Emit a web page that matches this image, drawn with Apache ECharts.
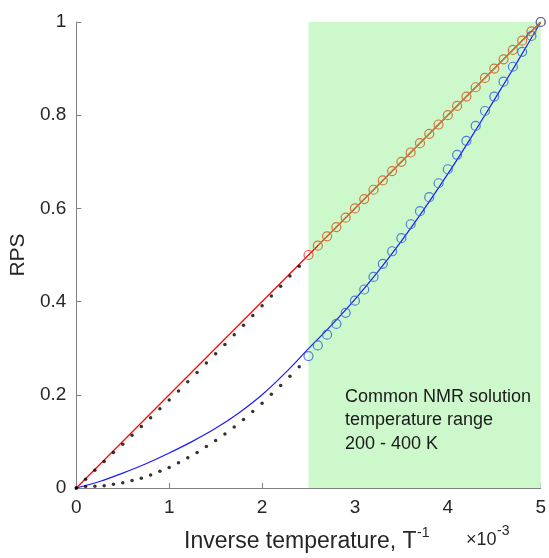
<!DOCTYPE html>
<html>
<head>
<meta charset="utf-8">
<script src="https://cdn.jsdelivr.net/npm/echarts@6/dist/echarts.min.js"></script>
<style>
html, body { margin: 0; padding: 0; background: #fff; }
#chart { width: 549px; height: 558px; }
</style>
</head>
<body>
<div id="chart"></div>
<script>
// axis ticks
var xTicks = [0, 1, 2, 3, 4, 5];
var yTicks = [0, 0.2, 0.4, 0.6, 0.8, 1];

// solid model lines
var redLineX = [0, 5];
var redLineY = [0, 1];
var blueLineX = [0, 0.25, 0.5, 0.75, 1, 1.25, 1.5, 1.75, 2, 2.25, 2.5, 2.75, 3, 3.25, 3.5, 3.75, 4, 4.25, 4.5, 4.75, 5];
var blueLineY = [0, 0.014, 0.032, 0.052, 0.075, 0.100, 0.128, 0.161, 0.200, 0.247, 0.299, 0.350, 0.405, 0.465, 0.530, 0.600, 0.674, 0.752, 0.833, 0.915, 1.0];

// dotted (black) points
var dotX = [0, 0.1, 0.2, 0.3, 0.4, 0.5, 0.6, 0.7, 0.8, 0.9, 1.0, 1.1, 1.2, 1.3, 1.4, 1.5, 1.6, 1.7, 1.8, 1.9, 2.0, 2.1, 2.2, 2.3, 2.4];
var redDotY = [0, 0.019, 0.038, 0.057, 0.076, 0.094, 0.113, 0.132, 0.151, 0.170, 0.189, 0.208, 0.228, 0.248, 0.268, 0.288, 0.308, 0.329, 0.349, 0.370, 0.391, 0.412, 0.433, 0.455, 0.476];
var blueDotY = [0, 0.003, 0.004, 0.005, 0.008, 0.011, 0.016, 0.021, 0.028, 0.036, 0.044, 0.054, 0.065, 0.076, 0.089, 0.102, 0.116, 0.131, 0.147, 0.164, 0.182, 0.201, 0.220, 0.240, 0.260];

// circles in the 200 - 400 K range
var circleX = [2.5, 2.6, 2.7, 2.8, 2.9, 3.0, 3.1, 3.2, 3.3, 3.4, 3.5, 3.6, 3.7, 3.8, 3.9, 4.0, 4.1, 4.2, 4.3, 4.4, 4.5, 4.6, 4.7, 4.8, 4.9, 5.0];
var orangeCircleY = [0.50, 0.52, 0.54, 0.56, 0.58, 0.60, 0.62, 0.64, 0.66, 0.68, 0.70, 0.72, 0.74, 0.76, 0.78, 0.80, 0.82, 0.84, 0.86, 0.88, 0.90, 0.92, 0.94, 0.96, 0.98, 1.00];
var blueCircleY = [0.283, 0.306, 0.329, 0.352, 0.376, 0.402, 0.426, 0.453, 0.481, 0.508, 0.536, 0.566, 0.594, 0.624, 0.654, 0.684, 0.715, 0.745, 0.777, 0.809, 0.840, 0.872, 0.904, 0.936, 0.970, 1.0];

var rangeX = [2.5, 5];
var rangeText = ['Common NMR solution', 'temperature range', '200 - 400 K'];

function zip(xs, ys) {
    var out = [];
    for (var i = 0; i < xs.length; i++) out.push([xs[i], ys[i]]);
    return out;
}

var font = 'Liberation Sans, Arial, Helvetica, sans-serif';
var hollow = 'rgba(0,0,0,0)';
var ink = '#262626';
var myChart = echarts.init(document.getElementById('chart'));

var option = {
    animation: false,
    backgroundColor: '#fff',
    grid: { left: 75, right: 8, top: 22, bottom: 70 },
    xAxis: {
        type: 'value',
        min: xTicks[0],
        max: xTicks[xTicks.length - 1],
        interval: 1,
        axisLine: { lineStyle: { color: '#808080', width: 1 } },
        axisTick: { inside: true, length: 5, lineStyle: { color: '#808080' } },
        axisLabel: { color: ink, fontSize: 19, fontFamily: font, margin: 10 },
        splitLine: { show: false }
    },
    yAxis: {
        type: 'value',
        min: yTicks[0],
        max: yTicks[yTicks.length - 1],
        interval: 0.2,
        name: 'RPS',
        nameLocation: 'middle',
        nameGap: 45,
        nameTextStyle: { color: ink, fontSize: 21, fontFamily: font },
        axisLine: { lineStyle: { color: '#808080', width: 1 } },
        axisTick: { inside: true, length: 5, lineStyle: { color: '#808080' } },
        axisLabel: { color: ink, fontSize: 19, fontFamily: font, margin: 10 },
        splitLine: { show: false }
    },
    graphic: [
        // x axis title with superscript
        { type: 'text', left: 184, top: 530, style: { text: 'Inverse temperature, T', fontSize: 23, fontFamily: font, fill: ink } },
        { type: 'text', left: 417, top: 526, style: { text: '-1', fontSize: 14, fontFamily: font, fill: ink } },
        // exponent note
        { type: 'text', left: 466, top: 531, style: { text: '\u00d710', fontSize: 18, fontFamily: font, fill: ink } },
        { type: 'text', left: 497, top: 524, style: { text: '-3', fontSize: 14, fontFamily: font, fill: ink } },
        {
            type: 'text',
            left: 345,
            top: 385,
            z: 100,
            style: {
                text: rangeText.join('\n'),
                fontSize: 18,
                lineHeight: 23.5,
                fontFamily: font,
                fill: '#1a1a1a'
            }
        }
    ],
    series: [
        {
            type: 'line',
            data: [],
            z: 1,
            silent: true,
            markArea: {
                silent: true,
                itemStyle: { color: '#ccf8cc' },
                data: [[{ xAxis: rangeX[0], yAxis: yTicks[0] }, { xAxis: rangeX[1], yAxis: yTicks[yTicks.length - 1] }]]
            }
        },
        {
            type: 'line',
            data: zip(redLineX, redLineY),
            z: 3,
            showSymbol: false,
            lineStyle: { color: '#ff0000', width: 1.2 }
        },
        {
            type: 'line',
            data: zip(blueLineX, blueLineY),
            z: 3,
            smooth: 0.3,
            showSymbol: false,
            lineStyle: { color: '#1a1aff', width: 1.2 }
        },
        {
            type: 'scatter',
            data: zip(dotX, redDotY),
            z: 4,
            symbolSize: 3.5,
            itemStyle: { color: '#000' }
        },
        {
            type: 'scatter',
            data: zip(dotX, blueDotY),
            z: 4,
            symbolSize: 3.5,
            itemStyle: { color: '#000' }
        },
        {
            type: 'line',
            data: zip(circleX.slice(1), orangeCircleY.slice(1)),
            z: 5,
            symbol: 'circle',
            symbolSize: 9,
            showAllSymbol: true,
            lineStyle: { color: '#c8773a', width: 1.2 },
            itemStyle: { color: hollow, borderColor: '#d0783c', borderWidth: 1.2 }
        },
        {
            type: 'scatter',
            data: [[circleX[0], orangeCircleY[0]]],
            z: 5,
            symbol: 'circle',
            symbolSize: 9,
            itemStyle: { color: hollow, borderColor: '#f03030', borderWidth: 1.2 }
        },
        {
            type: 'scatter',
            data: zip(circleX, blueCircleY),
            z: 6,
            symbol: 'circle',
            symbolSize: 9,
            itemStyle: { color: hollow, borderColor: '#2f62d8', borderWidth: 1.2 }
        }
    ]
};
myChart.setOption(option);
</script>
</body>
</html>
